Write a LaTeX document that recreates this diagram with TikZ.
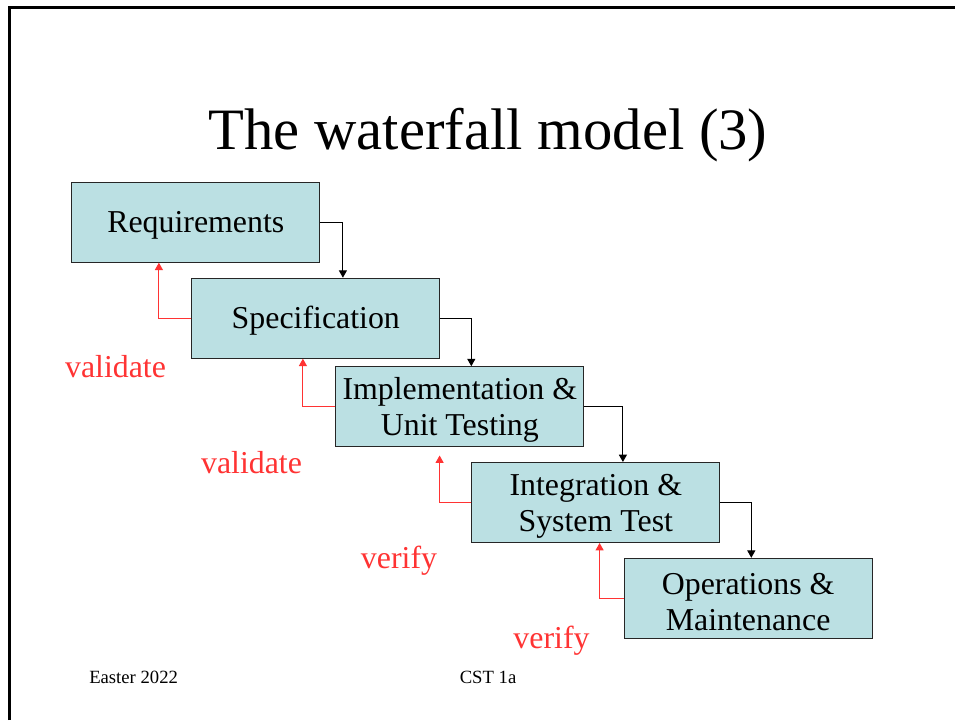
\documentclass[tikz,border=0pt]{standalone}
\usepackage{fontspec}
\setmainfont{Liberation Serif}
\usetikzlibrary{arrows.meta,calc}

\definecolor{phasefill}{RGB}{187,224,227}
\definecolor{checkred}{RGB}{255,51,51}

\begin{document}
\begin{tikzpicture}[x=0.75pt,y=-0.75pt]

      \useasboundingbox (0,0) rectangle (955,720);
      \draw[line width=2.25pt] (9.5,720) -- (9.5,7.5) -- (955,7.5);

      \node[anchor=base] (title) at (488,150) {\fontsize{44}{50}\selectfont The waterfall model (3)};

      \begin{scope}[every node/.style={draw=black!85, line width=0.75pt, fill=phasefill,
          minimum width=186pt, minimum height=60pt, inner sep=0pt, align=center,
          font=\fontsize{23.9}{27}\selectfont}]
        \node (req)   at (195.8,222.2) {\rule{0pt}{21pt}Requirements};
        \node (spec)  at (315.8,318.2) {\rule{0pt}{21pt}Specification};
        \node (impl)  at (459.8,406.7) {\rule{0pt}{21pt}Implementation \&\\Unit Testing};
        \node (integ) at (595.8,502.5) {\rule{0pt}{21pt}Integration \&\\System Test};
        \node (ops)   at (748.1,598.3) {\rule{0pt}{21pt}Operations \&\\Maintenance};
      \end{scope}

      \begin{scope}[-{Triangle[length=5.5pt,width=6pt]}, line width=0.75pt]
        \draw (req.east)   -| ($(spec.north west)+(151.6,0)$);
        \draw (spec.east)  -| ($(impl.north west)+(136,0)$);
        \draw (impl.east)  -| ($(integ.north west)+(151.6,0)$);
        \draw (integ.east) -| ($(ops.north west)+(127.7,0)$);
      \end{scope}

      \coordinate (gap) at ($(impl.south west)+(104.3,8.3)$);

      \begin{scope}[checkred, -{Triangle[length=5.5pt,width=6pt]}, line width=0.75pt]
        \draw (spec.west)  -| ($(req.south west)+(87.6,0)$);
        \draw (impl.west)  -| ($(spec.south west)+(111.6,0)$);
        \draw (integ.west) -| (gap);
        \draw (ops.west)   -| ($(integ.south west)+(128.3,0)$);
      \end{scope}

      \begin{scope}[every node/.style={anchor=base, text=checkred, font=\fontsize{23.9}{27}\selectfont}]
        \node (val1) at (115.5,377) {validate};
        \node (val2) at (251.5,473) {validate};
        \node (ver1) at (399,568) {verify};
        \node (ver2) at (551.5,648) {verify};
      \end{scope}

      \begin{scope}[every node/.style={anchor=base west, font=\fontsize{14}{16}\selectfont}]
        \node[inner sep=0pt] (term)   at (89,683.5)  {Easter 2022};
        \node[inner sep=0pt] (course) at (459.5,683.5) {CST 1a};
      \end{scope}

    \end{tikzpicture}
\end{document}
